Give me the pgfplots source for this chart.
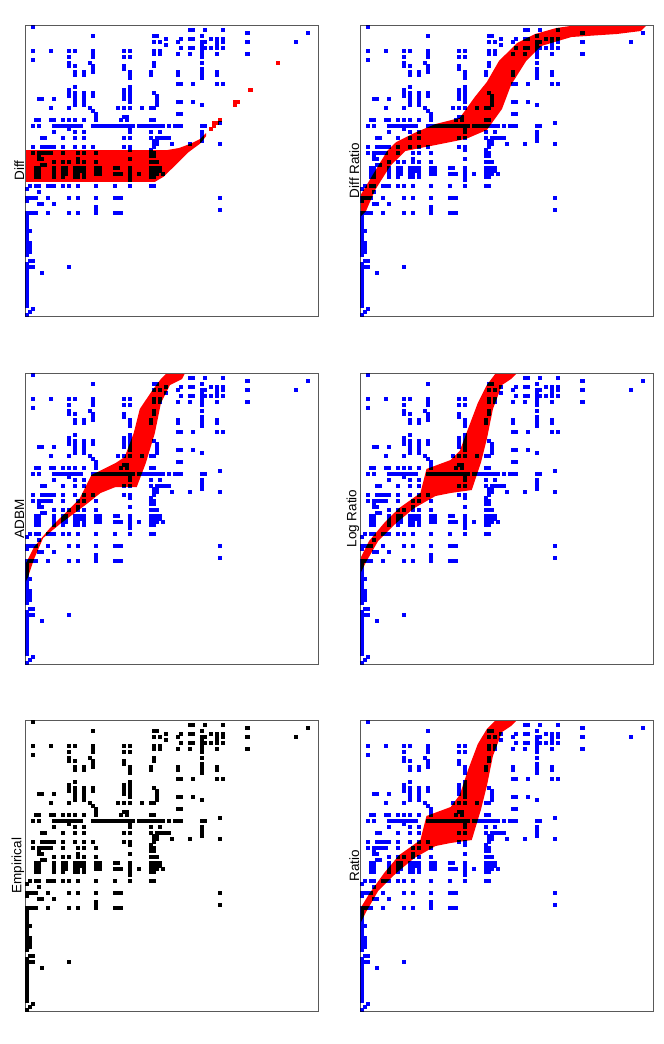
\documentclass[border=0pt]{standalone}
\usepackage{fontspec}
\setmainfont{Liberation Sans}
\usepackage{pgfplots}
\pgfplotsset{compat=1.18}
\usepackage{pgfplotstable}
\pgfplotstableread[row sep=\\]{
c r \\
2 0 \\
54 1 \\ 55 1 \\ 59 1 \\ 65 1 \\
73 2 \\ 93 2 \\
22 3 \\ 42 3 \\ 43 3 \\ 58 3 \\
46 4 \\ 51 4 \\ 54 4 \\ 55 4 \\ 61 4 \\ 63 4 \\ 65 4 \\
42 5 \\ 44 5 \\ 50 5 \\ 58 5 \\ 59 5 \\ 63 5 \\ 65 5 \\ 73 5 \\ 89 5 \\
46 6 \\ 58 6 \\ 63 6 \\
51 7 \\ 54 7 \\ 55 7 \\ 58 7 \\ 59 7 \\ 61 7 \\ 63 7 \\ 65 7 \\
2 8 \\ 8 8 \\ 14 8 \\ 16 8 \\ 22 8 \\ 32 8 \\ 34 8 \\ 42 8 \\ 44 8 \\ 58 8 \\
22 9 \\ 42 9 \\ 44 9 \\ 50 9 \\ 54 9 \\ 58 9 \\ 63 9 \\ 73 9 \\
14 10 \\ 22 10 \\ 32 10 \\ 34 10 \\ 58 10 \\
2 11 \\
14 12 \\ 21 12 \\ 42 12 \\ 58 12 \\
14 13 \\ 16 13 \\ 22 13 \\ 32 13 \\ 42 13 \\
22 14 \\ 32 14 \\ 58 14 \\
16 15 \\ 19 15 \\ 22 15 \\ 34 15 \\ 41 15 \\ 50 15 \\ 58 15 \\ 63 15 \\
16 16 \\ 19 16 \\ 34 16 \\ 41 16 \\ 50 16 \\ 58 16 \\ 63 16 \\
34 17 \\ 58 17 \\
50 19 \\ 51 19 \\ 55 19 \\ 63 19 \\ 65 19 \\
16 20 \\ 34 20 \\
14 21 \\ 32 21 \\ 34 21 \\
14 22 \\ 16 22 \\ 19 22 \\ 22 22 \\ 32 22 \\ 34 22 \\ 42 22 \\
14 23 \\ 16 23 \\ 19 23 \\ 22 23 \\ 32 23 \\ 34 23 \\ 43 23 \\
4 24 \\ 5 24 \\ 9 24 \\ 16 24 \\ 19 24 \\ 32 24 \\ 34 24 \\ 43 24 \\
16 25 \\ 19 25 \\ 34 25 \\ 43 25 \\ 50 25 \\ 51 25 \\ 55 25 \\
16 26 \\ 19 26 \\ 43 26 \\ 58 26 \\
8 27 \\ 14 27 \\ 21 27 \\ 30 27 \\ 32 27 \\ 34 27 \\ 38 27 \\ 41 27 \\ 42 27 \\
22 28 \\
23 29 \\ 50 29 \\ 51 29 \\
23 30 \\ 32 30 \\ 33 30 \\
3 31 \\ 4 31 \\ 8 31 \\ 9 31 \\ 12 31 \\ 14 31 \\ 16 31 \\ 19 31 \\ 23 31 \\ 31 31 \\ 33 31 \\ 41 31 \\ 42 31 \\
64 32 \\
2 33 \\ 4 33 \\ 9 33 \\ 10 33 \\ 11 33 \\ 12 33 \\ 13 33 \\ 14 33 \\ 15 33 \\ 16 33 \\ 17 33 \\ 18 33 \\
22 33 \\ 23 33 \\ 24 33 \\ 25 33 \\ 26 33 \\ 27 33 \\ 28 33 \\ 29 33 \\ 30 33 \\ 31 33 \\ 32 33 \\ 33 33 \\ 34 33 \\ 35 33 \\
37 33 \\ 38 33 \\ 39 33 \\ 40 33 \\ 41 33 \\ 42 33 \\ 43 33 \\ 44 33 \\ 45 33 \\ 47 33 \\ 49 33 \\ 50 33 \\ 51 33 \\ 58 33 \\ 59 33 \\
14 34 \\ 34 34 \\
9 35 \\ 16 35 \\ 19 35 \\ 34 35 \\ 41 35 \\ 44 35 \\ 58 35 \\
58 36 \\
5 37 \\ 6 37 \\ 12 37 \\ 16 37 \\ 19 37 \\ 32 37 \\ 34 37 \\ 41 37 \\ 43 37 \\ 44 37 \\ 45 37 \\ 46 37 \\ 47 37 \\ 58 37 \\
42 38 \\ 43 38 \\ 58 38 \\
42 39 \\ 43 39 \\ 48 39 \\ 54 39 \\ 64 39 \\
2 40 \\ 5 40 \\ 6 40 \\ 7 40 \\ 8 40 \\ 9 40 \\ 12 40 \\ 16 40 \\ 19 40 \\ 22 40 \\ 32 40 \\ 34 40 \\ 42 40 \\
34 41 \\ 41 41 \\
2 42 \\ 4 42 \\ 5 42 \\ 6 42 \\ 7 42 \\ 8 42 \\ 12 42 \\ 17 42 \\ 19 42 \\ 23 42 \\ 41 42 \\ 42 42 \\
4 43 \\ 41 43 \\ 42 43 \\
4 44 \\ 5 44 \\ 17 44 \\ 34 44 \\
9 45 \\ 12 45 \\ 14 45 \\ 17 45 \\ 19 45 \\ 23 45 \\ 41 45 \\ 42 45 \\ 43 45 \\
5 46 \\ 6 46 \\
3 47 \\ 4 47 \\ 9 47 \\ 12 47 \\ 13 47 \\ 16 47 \\ 17 47 \\ 18 47 \\ 19 47 \\ 23 47 \\ 24 47 \\ 29 47 \\ 30 47 \\ 34 47 \\ 41 47 \\ 42 47 \\ 43 47 \\ 44 47 \\
3 48 \\ 4 48 \\ 9 48 \\ 12 48 \\ 13 48 \\ 16 48 \\ 17 48 \\ 18 48 \\ 19 48 \\ 23 48 \\ 24 48 \\ 34 48 \\ 41 48 \\ 42 48 \\ 43 48 \\ 44 48 \\
3 49 \\ 4 49 \\ 9 49 \\ 12 49 \\ 13 49 \\ 16 49 \\ 17 49 \\ 19 49 \\ 23 49 \\ 24 49 \\ 29 49 \\ 30 49 \\ 31 49 \\ 34 49 \\ 37 49 \\ 41 49 \\ 42 49 \\ 43 49 \\ 45 49 \\
3 50 \\ 4 50 \\ 9 50 \\ 12 50 \\ 16 50 \\ 17 50 \\ 19 50 \\ 34 50 \\ 41 50 \\ 42 50 \\
34 51 \\
1 53 \\ 3 53 \\ 4 53 \\ 7 53 \\ 8 53 \\ 9 53 \\ 12 53 \\ 14 53 \\ 17 53 \\ 23 53 \\ 29 53 \\ 34 53 \\ 41 53 \\ 42 53 \\
0 54 \\ 4 55 \\
0 57 \\ 1 57 \\ 2 57 \\ 3 57 \\ 7 57 \\ 14 57 \\ 17 57 \\ 23 57 \\ 29 57 \\ 30 57 \\ 31 57 \\ 64 57 \\
0 58 \\
4 59 \\ 5 59 \\ 9 59 \\
23 60 \\ 23 61 \\ 64 61 \\
0 62 \\ 1 62 \\ 2 62 \\ 3 62 \\ 7 62 \\ 14 62 \\ 17 62 \\ 23 62 \\ 29 62 \\ 30 62 \\ 31 62 \\
0 63 \\ 0 64 \\ 0 65 \\ 0 66 \\ 0 67 \\ 0 68 \\ 1 68 \\ 0 69 \\ 0 70 \\ 0 71 \\
0 72 \\ 1 72 \\ 0 73 \\ 1 73 \\ 0 74 \\ 1 74 \\ 0 75 \\ 1 75 \\ 0 76 \\
1 78 \\ 2 78 \\ 0 79 \\ 0 80 \\ 1 80 \\ 2 80 \\ 14 80 \\ 0 81 \\ 0 82 \\ 5 82 \\
0 83 \\ 0 84 \\ 0 85 \\ 0 86 \\ 0 87 \\ 0 88 \\ 0 89 \\ 0 90 \\ 0 91 \\ 0 92 \\ 0 93 \\
2 94 \\ 1 95 \\ 0 96 \\
}\emp
\pgfplotsset{
  panel/.style={
    width=293bp, height=291bp, scale only axis,
    xmin=0, xmax=97, ymin=0, ymax=97, y dir=reverse,
    ticks=none, axis on top,
    axis line style={black!65, line width=0.8bp},
    every axis y label/.style={at={(rel axis cs:0,0.5)}, rotate=90, anchor=south, inner sep=0.6bp,
      font=\fontsize{13.5bp}{15bp}\selectfont},
  },
  cells/.style={only marks, mark=square*, mark size=1.55bp, color=#1,
    mark options={line width=0.1bp}},
  bcells/.style={only marks, mark=square*, mark size=1.55bp, color=blue,
    mark options={line width=0.1bp, blend mode=multiply}, blend mode=multiply},
  band/.style={fill=red, draw=none},
}
\newcommand{\emppts}{\addplot[bcells]
  table[x expr=\thisrow{c}+0.5, y expr=\thisrow{r}+0.5] {\emp};}
\begin{document}
\begin{tikzpicture}
\path[use as bounding box] (0bp,0bp) rectangle (664bp,-1044bp);
% Diff
\begin{axis}[panel, at={(25bp,-25bp)}, anchor=north west, ylabel={Diff}]
\addplot[band] coordinates {(0,41.7) (47,41.7) (51,41) (55,39.5) (58,38) (60,36) (60,37) (58,39.5) (54,42.5) (50,46.5) (46,50.5) (43,52.3) (0,52.3)} -- cycle;
\addplot[cells=red] coordinates {(83.5,12.5) (74.5,21.5) (69.5,25.5) (69.5,26.5) (70.5,25.5) (62.5,32.5) (62.5,33.5) (63.5,32.5) (64.5,31.5) (61.5,34.5)};
\emppts
\end{axis}
% Diff Ratio
\begin{axis}[panel, at={(360bp,-25bp)}, anchor=north west, ylabel={Diff Ratio}]
\addplot[band] coordinates {(0,57) (3,52) (6,47) (9,42) (12,39) (18,36) (25,33) (33,31) (38,24) (42,19) (46,12) (52,6) (58,3) (65,1) (72,0) (95,0)
 (93,2) (85,3) (70,4) (60,7) (55,12) (50,20) (47,28) (42,35) (35,38) (25,40) (15,42) (10,47) (5,55) (2,62) (0,64)} -- cycle;
\emppts
\end{axis}
% ADBM
\begin{axis}[panel, at={(25bp,-373bp)}, anchor=north west, ylabel={ADBM}]
\addplot[band] coordinates {(0,64) (3,58) (8,52) (13,47) (18,42) (22,34) (30,30) (33,28) (36,20) (38,12) (42,6) (45,2) (47,0) (53,0)
 (52,2) (48,4) (45,10) (43,20) (40,30) (37,38) (30,38) (25,40) (20,44) (12,50) (6,55) (3,62) (1,68) (0,70)} -- cycle;
\emppts
\end{axis}
% Log Ratio
\begin{axis}[panel, at={(360bp,-373bp)}, anchor=north west, ylabel={Log Ratio}]
\addplot[band] coordinates {(0,62) (3,56) (8,50) (13,45) (20,40) (22,32) (30,29) (33,26) (36,18) (39,10) (42,4) (45,0) (52,0)
 (50,2) (47,4) (44,12) (42,22) (40,30) (37,39) (30,40) (25,41) (18,45) (12,50) (6,56) (2,63) (0,67)} -- cycle;
\emppts
\end{axis}
% Empirical
\begin{axis}[panel, at={(25bp,-720bp)}, anchor=north west, ylabel={Empirical}]
\addplot[cells=black] table[x expr=\thisrow{c}+0.5, y expr=\thisrow{r}+0.5] {\emp};
\end{axis}
% Ratio
\begin{axis}[panel, at={(360bp,-720bp)}, anchor=north west, ylabel={Ratio}]
\addplot[band] coordinates {(0,63) (3,58) (8,51) (13,45) (20,40) (22,32) (30,29) (33,25) (36,16) (39,8) (42,3) (45,0) (52,0)
 (50,2) (47,4) (44,12) (42,22) (40,30) (37,40) (30,41) (25,42) (18,46) (12,51) (6,57) (2,64) (0,68)} -- cycle;
\emppts
\end{axis}
\end{tikzpicture}
\end{document}
